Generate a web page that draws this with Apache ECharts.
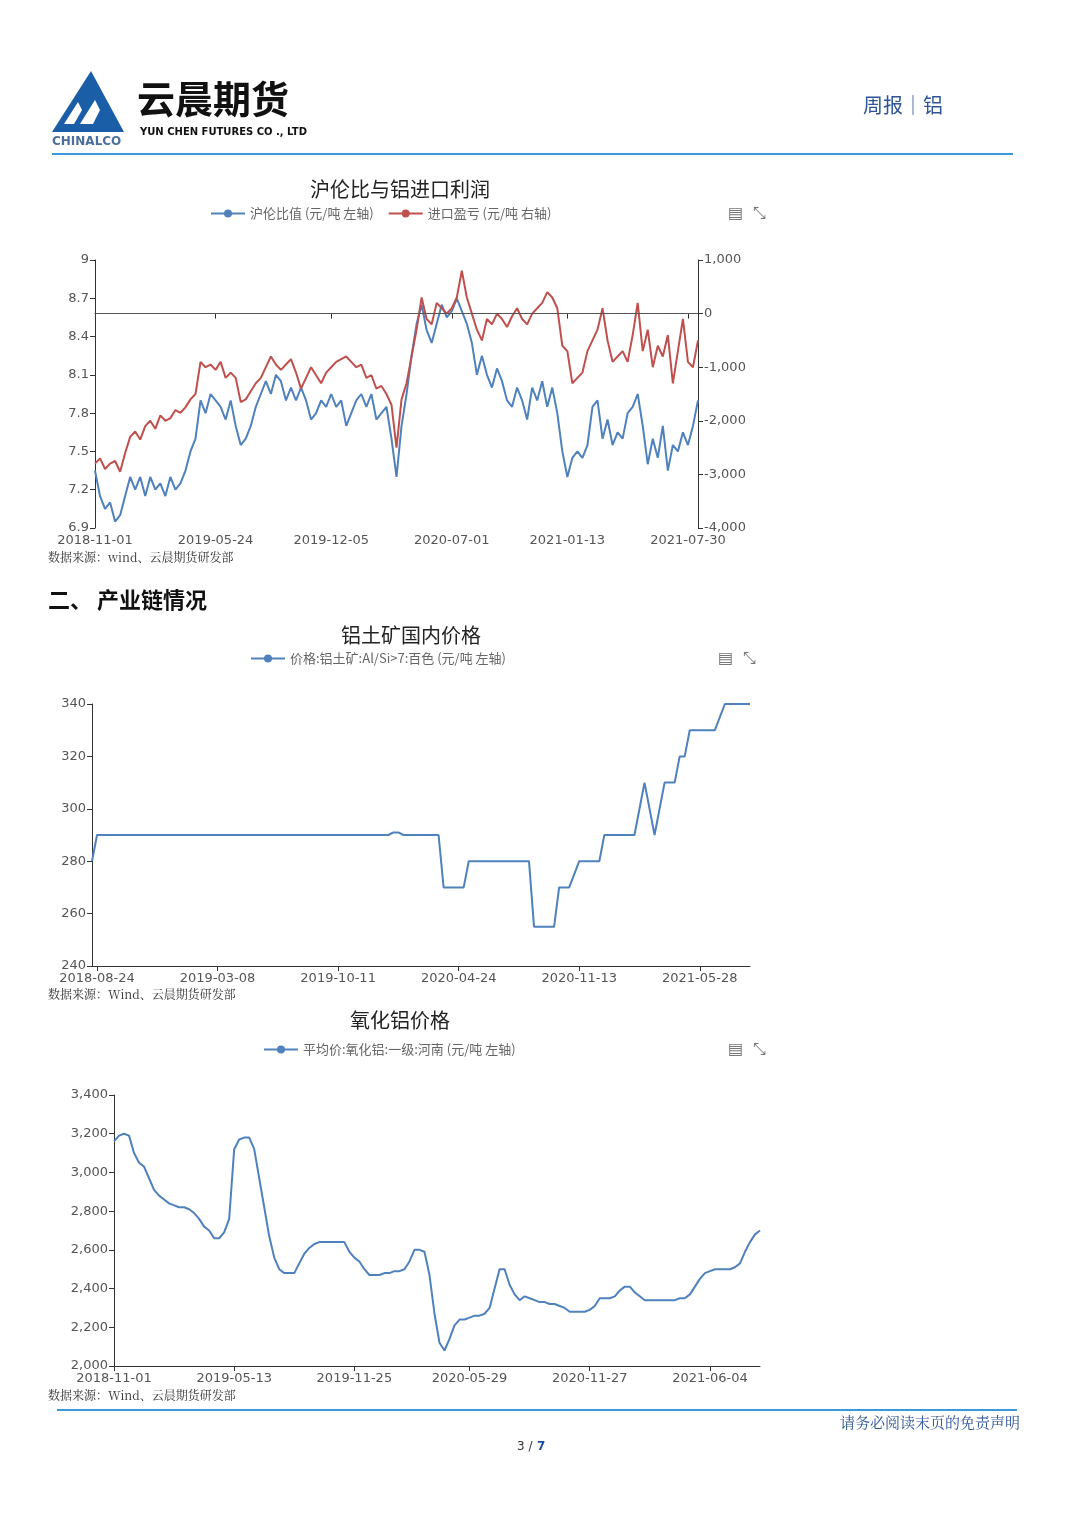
<!DOCTYPE html>
<html><head><meta charset="utf-8">
<script src="https://cdn.jsdelivr.net/npm/echarts@6/dist/echarts.min.js"></script>
<style>html,body{margin:0;padding:0;background:#fff}#c{width:1080px;height:1526px}</style>
</head><body><div id="c"></div>
<script>
// ---- Chart 1: 沪伦比 & 进口盈亏 ----
const c1Labels = {0:'2018-11-01',24:'2019-05-24',47:'2019-12-05',71:'2020-07-01',94:'2021-01-13',118:'2021-07-30'};
const c1Ratio = [7.35,7.15,7.05,7.1,6.95,7.0,7.15,7.3,7.2,7.3,7.15,7.3,7.2,7.25,7.15,7.3,7.2,7.25,7.35,7.5,
7.6,7.9,7.8,7.95,7.9,7.85,7.75,7.9,7.7,7.55,7.6,7.7,7.85,7.95,8.05,7.95,8.1,8.05,7.9,8.0,
7.9,8.0,7.9,7.75,7.8,7.9,7.85,7.95,7.85,7.9,7.7,7.8,7.9,7.95,7.85,7.95,7.75,7.8,7.85,7.6,
7.3,7.7,7.95,8.25,8.5,8.65,8.45,8.35,8.5,8.65,8.55,8.6,8.7,8.6,8.5,8.35,8.1,8.25,8.1,8.0,
8.15,8.05,7.9,7.85,8.0,7.9,7.75,8.0,7.9,8.05,7.85,8.0,7.8,7.5,7.3,7.45,7.5,7.45,7.55,7.85,
7.9,7.6,7.75,7.55,7.65,7.6,7.8,7.85,7.95,7.7,7.4,7.6,7.45,7.7,7.35,7.55,7.5,7.65,7.55,7.7,7.9];
const c1Profit = [-2800,-2700,-2900,-2800,-2750,-2950,-2600,-2300,-2200,-2350,-2100,-2000,-2150,-1900,-2000,-1950,-1800,-1850,-1750,-1600,
-1500,-900,-1000,-950,-1050,-900,-1200,-1100,-1200,-1650,-1600,-1450,-1300,-1200,-1000,-800,-950,-1050,-950,-850,
-1100,-1400,-1200,-1000,-1150,-1300,-1100,-1000,-900,-850,-800,-900,-1000,-950,-1200,-1150,-1400,-1350,-1500,-1700,
-2500,-1600,-1300,-800,-300,300,-100,-200,200,100,0,100,300,800,300,0,-300,-500,-100,-200,
0,-100,-250,-50,100,-100,-200,0,100,200,400,300,100,-600,-700,-1300,-1200,-1100,-700,-500,
-300,100,-500,-900,-800,-700,-900,-400,200,-700,-300,-1000,-600,-800,-400,-1300,-700,-100,-900,-1000,-500];
// ---- Chart 2: 铝土矿 ----
const c2Labels = {1:'2018-08-24',25:'2019-03-08',49:'2019-10-11',73:'2020-04-24',97:'2020-11-13',121:'2021-05-28'};
const c2Price = [280,
290,290,290,290,290,290,290,290,290,290,290,290,290,290,290,290,290,290,290,290,
290,290,290,290,290,290,290,290,290,290,290,290,290,290,290,290,290,290,290,290,
290,290,290,290,290,290,290,290,290,290,290,290,290,290,290,290,290,290,290,
291,291,290,290,290,290,290,290,290,290,
270,270,270,270,270,
280,280,280,280,280,280,280,280,280,280,280,280,280,
255,255,255,255,255,270,270,270,275,280,280,280,280,280,
290,290,290,290,290,290,290,300,310,300,290,300,310,310,310,320,320,
330,330,330,330,330,330,335,340,340,340,340,340,340];
// ---- Chart 3: 氧化铝 ----
const c3Labels = {0:'2018-11-01',24:'2019-05-13',48:'2019-11-25',71:'2020-05-29',95:'2020-11-27',119:'2021-06-04'};
const c3Price = [3160,3190,3200,3190,3100,3050,3030,2970,2910,2880,2860,2840,2830,2820,2820,2810,2790,2760,2720,2700,
2660,2660,2690,2760,3120,3170,3180,3180,3120,2970,2820,2670,2560,2500,2480,2480,2480,2530,2580,2610,
2630,2640,2640,2640,2640,2640,2640,2590,2560,2540,2500,2470,2470,2470,2480,2480,2490,2490,2500,2540,
2600,2600,2590,2470,2270,2120,2080,2140,2210,2240,2240,2250,2260,2260,2270,2300,2400,2500,2500,2420,
2370,2340,2360,2350,2340,2330,2330,2320,2320,2310,2300,2280,2280,2280,2280,2290,2310,2350,2350,2350,
2360,2390,2410,2410,2380,2360,2340,2340,2340,2340,2340,2340,2340,2350,2350,2370,2410,2450,2480,2490,
2500,2500,2500,2500,2510,2530,2590,2640,2680,2700];

const BLUE='#4f81bd', RED='#c0504d';
const axLine={lineStyle:{color:'#333'}};
const lab={color:'#555',fontSize:13,fontFamily:'DejaVu Sans'};
function xAx(n,labels,grid){
  return {type:'category',gridIndex:grid,boundaryGap:false,data:Array.from({length:n},(_, i)=>i),
    axisLine:axLine,axisTick:{show:true,interval:(i)=>labels[i]!==undefined,lineStyle:{color:'#333'}},
    axisLabel:Object.assign({interval:(i)=>labels[i]!==undefined,formatter:(v)=>labels[v]||'',margin:6},lab),splitLine:{show:false}};
}
function yAx(grid,min,max,iv,pos,fmt){
  return {type:'value',gridIndex:grid,min:min,max:max,interval:iv,position:pos||'left',
    axisLine:{show:true,lineStyle:{color:'#333'}},axisTick:{show:true,lineStyle:{color:'#333'}},splitLine:{show:false},
    axisLabel:Object.assign({formatter:fmt||undefined,margin:6},lab)};
}
const thou=(v)=>v.toLocaleString('en-US');
const legTxt={color:'#666',fontSize:13,fontFamily:'Noto Sans CJK SC'};
const ttl={color:'#222',fontSize:20,fontWeight:'normal',fontFamily:'Noto Sans CJK SC'};
const src={type:'text',style:{fill:'#333',font:'12px "Noto Serif CJK SC", serif'}};

const chart=echarts.init(document.getElementById('c'));
chart.setOption({
  animation:false,
  title:[
    {text:'沪伦比与铝进口利润',left:395,top:174,textAlign:'center',textStyle:ttl},
    {text:'铝土矿国内价格',left:406,top:620,textAlign:'center',textStyle:ttl},
    {text:'氧化铝价格',left:395,top:1005,textAlign:'center',textStyle:ttl}
  ],
  legend:[
    {data:['沪伦比值 (元/吨 左轴)','进口盈亏 (元/吨 右轴)'],left:205,top:202,itemWidth:34,itemHeight:10,itemGap:14,textStyle:legTxt},
    {data:['价格:铝土矿:Al/Si>7:百色 (元/吨 左轴)'],left:245,top:647,itemWidth:34,itemHeight:10,textStyle:legTxt},
    {data:['平均价:氧化铝:一级:河南 (元/吨 左轴)'],left:258,top:1038,itemWidth:34,itemHeight:10,textStyle:legTxt}
  ],
  grid:[
    {left:95,right:382,top:260,height:268},
    {left:92,right:330,top:704,height:262},
    {left:114,right:320,top:1095,height:271}
  ],
  xAxis:[xAx(c1Ratio.length,c1Labels,0),xAx(c2Price.length,c2Labels,1),xAx(c3Price.length,c3Labels,2)],
  yAxis:[yAx(0,6.9,9,0.3,'left',(v)=>String(+v.toFixed(1))),yAx(0,-4000,1000,1000,'right',thou),
         yAx(1,240,340,20),yAx(2,2000,3400,200,'left',thou)],
  series:[
    {name:'沪伦比值 (元/吨 左轴)',type:'line',xAxisIndex:0,yAxisIndex:0,data:c1Ratio,showSymbol:false,symbol:'circle',symbolSize:9,color:BLUE,lineStyle:{width:2}},
    {name:'进口盈亏 (元/吨 右轴)',type:'line',xAxisIndex:0,yAxisIndex:1,data:c1Profit,showSymbol:false,symbol:'circle',symbolSize:9,color:RED,lineStyle:{width:2},
      markLine:{silent:true,symbol:'none',label:{show:false},lineStyle:{color:'#555',width:1,type:'solid'},data:[{yAxis:0}]}},
    {name:'价格:铝土矿:Al/Si>7:百色 (元/吨 左轴)',type:'line',xAxisIndex:1,yAxisIndex:2,data:c2Price,showSymbol:false,symbol:'circle',symbolSize:9,color:BLUE,lineStyle:{width:2}},
    {name:'平均价:氧化铝:一级:河南 (元/吨 左轴)',type:'line',xAxisIndex:2,yAxisIndex:3,data:c3Price,showSymbol:false,symbol:'circle',symbolSize:9,color:BLUE,lineStyle:{width:2}}
  ],
  graphic:[
    {type:'polygon',shape:{points:[[52,132],[91,71],[124,132]]},style:{fill:'#1a5ea8'}},
    {type:'polygon',shape:{points:[[80,124],[95,100],[100,110],[93,124]]},style:{fill:'#fff'}},
    {type:'polygon',shape:{points:[[64,124],[78,102],[82,110],[74,124]]},style:{fill:'#fff'}},
    {type:'text',left:52,top:136,style:{text:'CHINALCO',fill:'#4a6f9a',font:'bold 12px "DejaVu Sans"'}},
    {type:'text',left:137,top:80,style:{text:'云晨期货',fill:'#111',font:'bold 38px "Noto Sans CJK SC"'}},
    {type:'text',left:140,top:127,style:{text:'YUN CHEN FUTURES CO ., LTD',fill:'#111',font:'bold 10px "DejaVu Sans"'}},
    {type:'text',left:863,top:95,style:{text:'周报│铝',fill:'#2f5597',font:'20px "Noto Sans CJK SC"'}},
    {type:'line',shape:{x1:52,y1:154,x2:1013,y2:154},style:{stroke:'#3a9ad9',lineWidth:2}},
    Object.assign({},src,{left:48,top:551,style:Object.assign({},src.style,{text:'数据来源：wind、云晨期货研发部'})}),
    {type:'text',left:48,top:589,style:{text:'二、 产业链情况',fill:'#111',font:'bold 22px "Noto Sans CJK SC"'}},
    Object.assign({},src,{left:48,top:988,style:Object.assign({},src.style,{text:'数据来源：Wind、云晨期货研发部'})}),
    Object.assign({},src,{left:48,top:1389,style:Object.assign({},src.style,{text:'数据来源：Wind、云晨期货研发部'})}),
    {type:'line',shape:{x1:57,y1:1410,x2:1017,y2:1410},style:{stroke:'#3a9ad9',lineWidth:2}},
    {type:'text',right:60,top:1415,style:{text:'请务必阅读末页的免责声明',fill:'#2f5597',font:'15px "Noto Serif CJK SC", serif'}},
    {type:'text',left:517,top:1441,style:{text:'3 /',fill:'#333',font:'12px "DejaVu Sans"'}},
    {type:'text',left:537,top:1441,style:{text:'7',fill:'#1a4fa0',font:'bold 12px "DejaVu Sans"'}},
    {type:'text',left:728,top:206,style:{text:'▤  ⤡',fill:'#777',font:'16px "DejaVu Sans"'}},
    {type:'text',left:718,top:651,style:{text:'▤  ⤡',fill:'#777',font:'16px "DejaVu Sans"'}},
    {type:'text',left:728,top:1042,style:{text:'▤  ⤡',fill:'#777',font:'16px "DejaVu Sans"'}}
  ]
});
</script></body></html>
